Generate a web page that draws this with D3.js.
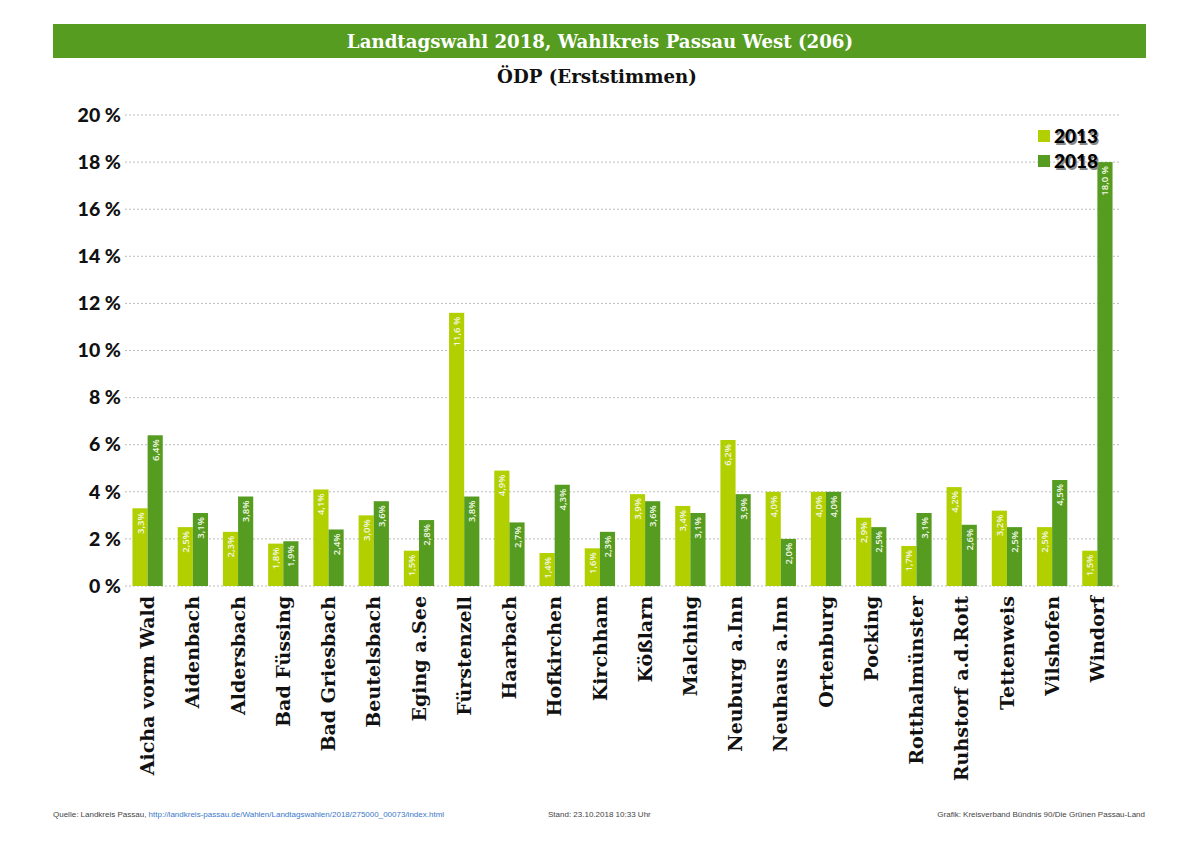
<!DOCTYPE html>
<html>
<head>
<meta charset="utf-8">
<script src="https://d3js.org/d3.v7.min.js"></script>
<style>
  body { margin: 0; background: #fff; }
  svg { display: block; }
</style>
</head>
<body>
<div id="chart"></div>
<script>
// Data
const municipalities = [
    'Aicha vorm Wald', 'Aidenbach', 'Aldersbach', 'Bad Füssing', 'Bad Griesbach',
    'Beutelsbach', 'Eging a.See', 'Fürstenzell', 'Haarbach', 'Hofkirchen',
    'Kirchham', 'Kößlarn', 'Malching', 'Neuburg a.Inn', 'Neuhaus a.Inn',
    'Ortenburg', 'Pocking', 'Rotthalmünster', 'Ruhstorf a.d.Rott', 'Tettenweis',
    'Vilshofen', 'Windorf'
];
const years = ['2013', '2018'];
const values2013 = [3.3, 2.5, 2.3, 1.8, 4.1, 3.0, 1.5, 11.6, 4.9, 1.4, 1.6, 3.9, 3.4, 6.2, 4.0, 4.0, 2.9, 1.7, 4.2, 3.2, 2.5, 1.5];
const values2018 = [6.4, 3.1, 3.8, 1.9, 2.4, 3.6, 2.8, 3.8, 2.7, 4.3, 2.3, 3.6, 3.1, 3.9, 2.0, 4.0, 2.5, 3.1, 2.6, 2.5, 4.5, 18.0];
const yTicks = [0, 2, 4, 6, 8, 10, 12, 14, 16, 18, 20];

const colors = { '2013': '#b2d000', '2018': '#559c20' };

const width = 1200, height = 848;
const plot = { left: 125, right: 1120, top: 115, bottom: 586 };

const svg = d3.select('#chart').append('svg')
    .attr('width', width)
    .attr('height', height);

// Header band
svg.append('rect')
    .attr('x', 53).attr('y', 24)
    .attr('width', 1093).attr('height', 34)
    .attr('fill', '#559c20');

svg.append('text')
    .attr('x', 600).attr('y', 47.5)
    .attr('text-anchor', 'middle')
    .attr('font-family', '"DejaVu Serif", serif')
    .attr('font-weight', 'bold')
    .attr('font-size', '18.2px')
    .attr('fill', '#fff')
    .text('Landtagswahl 2018, Wahlkreis Passau West (206)');

svg.append('text')
    .attr('x', 597).attr('y', 83)
    .attr('text-anchor', 'middle')
    .attr('font-family', '"DejaVu Serif", serif')
    .attr('font-weight', 'bold')
    .attr('font-size', '18.2px')
    .attr('fill', '#111')
    .text('ÖDP (Erststimmen)');

// Scales
const x0 = d3.scaleBand()
    .domain(municipalities)
    .range([plot.left, plot.right])
    .paddingInner(0.33)
    .paddingOuter(0.165);

const x1 = d3.scaleBand()
    .domain(years)
    .range([0, x0.bandwidth()]);

const y = d3.scaleLinear()
    .domain([0, 20])
    .range([plot.bottom, plot.top]);

// Grid lines
svg.append('g')
    .selectAll('line')
    .data(yTicks)
    .join('line')
    .attr('x1', plot.left).attr('x2', plot.right)
    .attr('y1', d => y(d)).attr('y2', d => y(d))
    .attr('stroke', '#bdbdbd')
    .attr('stroke-width', 1)
    .attr('stroke-dasharray', '2,2');

// Y axis labels
const yAxis = svg.append('g')
    .attr('transform', `translate(${plot.left - 4},0)`)
    .call(d3.axisLeft(y).tickValues(yTicks).tickSize(0).tickPadding(0)
        .tickFormat(d => `${d} %`));
yAxis.select('.domain').remove();
yAxis.selectAll('text')
    .attr('font-family', 'Lato, "DejaVu Sans", sans-serif')
    .attr('font-weight', 900)
    .attr('font-size', '19.5px')
    .attr('fill', '#111');

// Bars
const rows = municipalities.map((m, i) => ({
    name: m,
    vals: [
        { year: '2013', value: values2013[i] },
        { year: '2018', value: values2018[i] }
    ]
}));

const groups = svg.append('g')
    .selectAll('g')
    .data(rows)
    .join('g')
    .attr('transform', d => `translate(${x0(d.name)},0)`);

groups.selectAll('rect')
    .data(d => d.vals)
    .join('rect')
    .attr('x', d => x1(d.year))
    .attr('y', d => y(d.value))
    .attr('width', x1.bandwidth())
    .attr('height', d => y(0) - y(d.value))
    .attr('fill', d => colors[d.year]);

// Value labels inside bars (rotated)
const fmt = v => v.toFixed(1).replace('.', ',') + (v >= 10 ? ' %' : '%');
groups.selectAll('text')
    .data(d => d.vals)
    .join('text')
    .attr('transform', d => `translate(${x1(d.year) + x1.bandwidth() / 2 + 3.5},${y(d.value) + 4}) rotate(-90)`)
    .attr('text-anchor', 'end')
    .attr('font-family', '"Open Sans", sans-serif')
    .attr('font-weight', 600)
    .attr('font-size', '9.5px')
    .attr('fill', '#f4f8e8')
    .text(d => fmt(d.value));

// Category labels
const xAxis = svg.append('g')
    .attr('transform', `translate(0,${plot.bottom})`)
    .call(d3.axisBottom(x0).tickSize(0).tickPadding(0));
xAxis.select('.domain').remove();
xAxis.selectAll('text')
    .attr('transform', 'rotate(-90)')
    .attr('x', -10)
    .attr('y', 0)
    .attr('dy', '0.35em')
    .attr('text-anchor', 'end')
    .attr('font-family', '"DejaVu Serif", serif')
    .attr('font-weight', 'bold')
    .attr('font-size', '19px')
    .attr('fill', '#111');

// Legend
const legend = svg.append('g')
    .selectAll('g')
    .data(years)
    .join('g')
    .attr('transform', (d, i) => `translate(1038,${130 + i * 25})`);
legend.append('rect')
    .attr('width', 12).attr('height', 12)
    .attr('fill', d => colors[d]);
legend.append('text')
    .attr('x', 17.5).attr('y', 14.5)
    .attr('font-family', 'Lato, "DejaVu Sans", sans-serif')
    .attr('font-weight', 900)
    .attr('font-size', '19px')
    .attr('fill', '#888')
    .text(d => d);
legend.append('text')
    .attr('x', 16).attr('y', 13)
    .attr('font-family', 'Lato, "DejaVu Sans", sans-serif')
    .attr('font-weight', 900)
    .attr('font-size', '19px')
    .attr('fill', '#000')
    .text(d => d);

// Footer
const footer = svg.append('g')
    .attr('font-family', '"Liberation Sans", sans-serif')
    .attr('font-size', '8px')
    .attr('fill', '#444');
const src = footer.append('text').attr('x', 53).attr('y', 817);
src.append('tspan').text('Quelle: Landkreis Passau, ');
src.append('tspan').attr('fill', '#3a78c9')
    .text('http://landkreis-passau.de/Wahlen/Landtagswahlen/2018/275000_00073/index.html');
footer.append('text').attr('x', 548).attr('y', 817)
    .text('Stand: 23.10.2018 10:33 Uhr');
footer.append('text').attr('x', 1145).attr('y', 817)
    .attr('text-anchor', 'end')
    .text('Grafik: Kreisverband Bündnis 90/Die Grünen Passau-Land');
</script>
</body>
</html>
